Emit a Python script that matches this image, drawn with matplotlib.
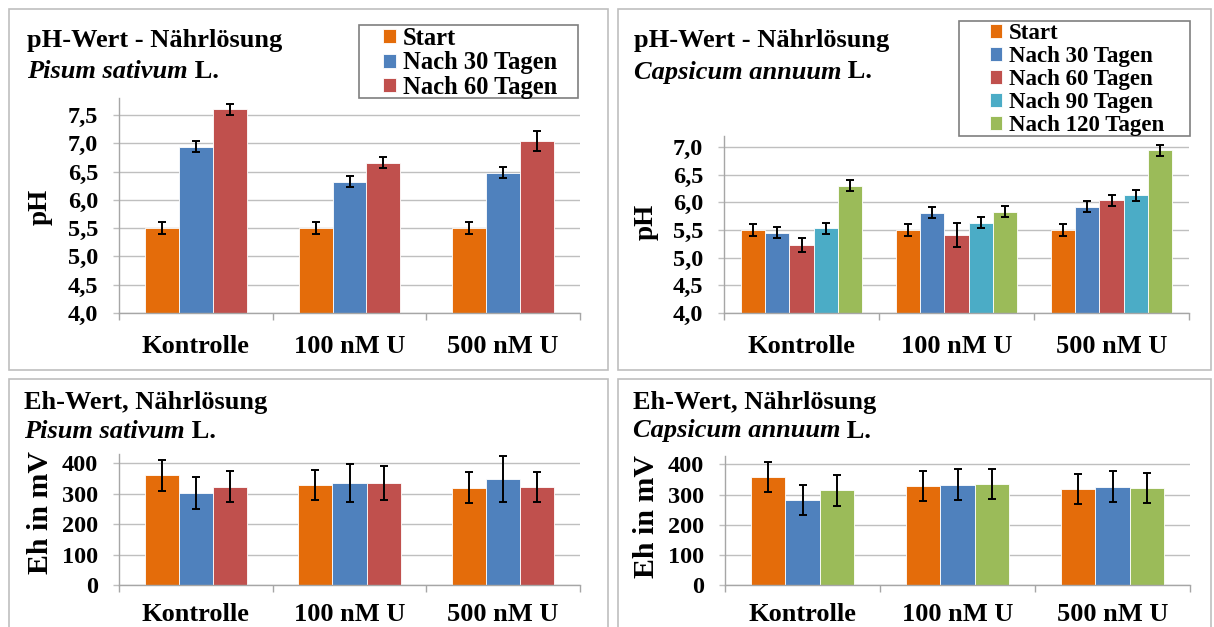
import numpy as np
import matplotlib
matplotlib.use('Agg')
import matplotlib.pyplot as plt
from matplotlib.patches import Rectangle
from matplotlib.ticker import FuncFormatter

plt.rcParams['font.family'] = 'Liberation Serif'
plt.rcParams['font.weight'] = 'bold'

# Data
categories = ['Kontrolle', '100 nM U', '500 nM U']

# pH - Pisum sativum
pisum_ph_labels = ['Start', 'Nach 30 Tagen', 'Nach 60 Tagen']
pisum_ph_start = [5.5, 5.5, 5.5]
pisum_ph_30 = [6.94, 6.32, 6.48]
pisum_ph_60 = [7.60, 6.66, 7.04]
pisum_ph_start_err = [0.10, 0.10, 0.10]
pisum_ph_30_err = [0.10, 0.10, 0.10]
pisum_ph_60_err = [0.10, 0.10, 0.18]

# pH - Capsicum annuum
capsicum_ph_labels = ['Start', 'Nach 30 Tagen', 'Nach 60 Tagen',
                      'Nach 90 Tagen', 'Nach 120 Tagen']
capsicum_ph_start = [5.5, 5.5, 5.5]
capsicum_ph_30 = [5.45, 5.81, 5.92]
capsicum_ph_60 = [5.23, 5.41, 6.04]
capsicum_ph_90 = [5.53, 5.63, 6.13]
capsicum_ph_120 = [6.30, 5.83, 6.94]
capsicum_ph_start_err = [0.10, 0.10, 0.10]
capsicum_ph_30_err = [0.10, 0.10, 0.10]
capsicum_ph_60_err = [0.13, 0.21, 0.10]
capsicum_ph_90_err = [0.10, 0.10, 0.10]
capsicum_ph_120_err = [0.10, 0.10, 0.10]

# Eh - Pisum sativum (Start, 30 d, 60 d)
pisum_eh_start = [360, 329, 319]
pisum_eh_30 = [302, 335, 347]
pisum_eh_60 = [323, 335, 323]
pisum_eh_start_err = [50, 50, 51]
pisum_eh_30_err = [51, 62, 75]
pisum_eh_60_err = [51, 56, 49]

# Eh - Capsicum annuum (Start, 30 d, 120 d)
capsicum_eh_start = [358, 328, 319]
capsicum_eh_30 = [282, 333, 326]
capsicum_eh_120 = [314, 334, 322]
capsicum_eh_start_err = [50, 50, 50]
capsicum_eh_30_err = [50, 51, 51]
capsicum_eh_120_err = [51, 50, 51]

ORANGE = '#E46C0A'
BLUE = '#4F81BD'
RED = '#C0504D'
TEAL = '#4BACC6'
GREEN = '#9BBB59'

W, H = 1214, 627
fig = plt.figure(figsize=(W / 100, H / 100), dpi=100)


def fx(x):
    return x / W


def fy(y):
    return 1 - y / H


def add_axes(left, top, right, bottom):
    return fig.add_axes([fx(left), fy(bottom), (right - left) / W, (bottom - top) / H])


def frame(left, top, right, bottom, color='#BFBFBF'):
    fig.patches.append(Rectangle((fx(left), fy(bottom)), (right - left) / W, (bottom - top) / H,
                                 transform=fig.transFigure, fill=False,
                                 edgecolor=color, lw=1.2, zorder=5))


def bars(ax, series, errs, colors, width):
    x = np.arange(len(categories))
    n = len(series)
    handles = []
    for i, (vals, err, c) in enumerate(zip(series, errs, colors)):
        pos = x + (i - (n - 1) / 2) * width
        b = ax.bar(pos, vals, width, color=c, edgecolor='white', linewidth=0.6, zorder=2)
        ax.errorbar(pos, vals, yerr=err, fmt='none', ecolor='black', elinewidth=1.4,
                    capsize=3, capthick=1.4, zorder=3)
        handles.append(b)
    return handles


def style(ax, ylim, ticks, fmt, xpad):
    ax.set_xlim(-0.5, 2.5)
    ax.set_ylim(*ylim)
    ax.set_yticks(ticks)
    ax.yaxis.set_major_formatter(FuncFormatter(fmt))
    ax.set_xticks(range(len(categories)))
    ax.set_xticklabels(categories, fontsize=19)
    ax.set_xticks([-0.5, 0.5, 1.5, 2.5], minor=True)
    ax.tick_params(axis='x', which='major', length=0, pad=xpad)
    ax.tick_params(axis='x', which='minor', length=5, color='#A6A6A6', width=1)
    ax.tick_params(axis='y', length=4.5, color='#BFBFBF', width=1, pad=10.5, labelsize=17.5)
    ax.grid(axis='y', color='#BFBFBF', lw=1, zorder=0)
    ax.set_axisbelow(True)
    for s in ['top', 'right']:
        ax.spines[s].set_visible(False)
    for s in ['left', 'bottom']:
        ax.spines[s].set_color('#A6A6A6')
        ax.spines[s].set_linewidth(1)


def legend(handles, labels, x, y, size, spacing):
    fig.legend(handles, labels, loc='upper left', bbox_to_anchor=(fx(x), fy(y)),
               fontsize=size, frameon=False, handlelength=0.52, handleheight=0.52,
               handletextpad=0.3, labelspacing=spacing, borderpad=0, borderaxespad=0)


ph_fmt = lambda v, p: f'{v:.1f}'.replace('.', ',')
eh_fmt = lambda v, p: f'{v:.0f}'

# Panel frames
frame(9, 9, 608, 370)
frame(618, 9, 1211, 370)
frame(9, 379, 608, 640)
frame(618, 379, 1211, 640)

# pH Pisum
ax1 = add_axes(119, 98, 580, 313)
h1 = bars(ax1, [pisum_ph_start, pisum_ph_30, pisum_ph_60],
          [pisum_ph_start_err, pisum_ph_30_err, pisum_ph_60_err],
          [ORANGE, BLUE, RED], 0.22)
style(ax1, (4.0, 7.8), np.arange(4.0, 7.51, 0.5), ph_fmt, 15.5)
legend(h1, pisum_ph_labels, 383, 27, 17.7, 0.06)
frame(359, 25, 578, 98, '#7F7F7F')
fig.text(fx(40), fy(207), 'pH', fontsize=19.5, rotation=90, ha='center', va='center')

# pH Capsicum
ax2 = add_axes(724, 136, 1189, 313)
h2 = bars(ax2, [capsicum_ph_start, capsicum_ph_30, capsicum_ph_60, capsicum_ph_90, capsicum_ph_120],
          [capsicum_ph_start_err, capsicum_ph_30_err, capsicum_ph_60_err,
           capsicum_ph_90_err, capsicum_ph_120_err],
          [ORANGE, BLUE, RED, TEAL, GREEN], 0.155)
style(ax2, (4.0, 7.2), np.arange(4.0, 7.01, 0.5), ph_fmt, 15.5)
legend(h2, capsicum_ph_labels, 990, 23, 16.5, 0.09)
frame(959, 21, 1190, 136, '#7F7F7F')
fig.text(fx(646), fy(222), 'pH', fontsize=19.5, rotation=90, ha='center', va='center')

# Eh Pisum
ax3 = add_axes(119, 454, 580, 585)
bars(ax3, [pisum_eh_start, pisum_eh_30, pisum_eh_60],
     [pisum_eh_start_err, pisum_eh_30_err, pisum_eh_60_err],
     [ORANGE, BLUE, RED], 0.222)
style(ax3, (0, 430), np.arange(0, 401, 100), eh_fmt, 13)
fig.text(fx(40), fy(513), 'Eh in mV', fontsize=21.5, rotation=90, ha='center', va='center')

# Eh Capsicum
ax4 = add_axes(725, 456, 1190, 585)
bars(ax4, [capsicum_eh_start, capsicum_eh_30, capsicum_eh_120],
     [capsicum_eh_start_err, capsicum_eh_30_err, capsicum_eh_120_err],
     [ORANGE, BLUE, GREEN], 0.222)
style(ax4, (0, 428), np.arange(0, 401, 100), eh_fmt, 13)
fig.text(fx(647), fy(516), 'Eh in mV', fontsize=21.5, rotation=90, ha='center', va='center')

# Titles: second line has italic species name followed by upright "L."
for x, y1, y2, line1, species in [
        (27, 40, 71, 'pH-Wert - Nährlösung', 'Pisum sativum'),
        (634, 40, 72, 'pH-Wert - Nährlösung', 'Capsicum annuum'),
        (24, 402, 432, 'Eh-Wert, Nährlösung', 'Pisum sativum'),
        (633, 402, 431, 'Eh-Wert, Nährlösung', 'Capsicum annuum')]:
    fig.text(fx(x), fy(y1), line1, fontsize=19, va='center', ha='left')
    t = fig.text(fx(x), fy(y2), species, fontsize=19, style='italic', va='center', ha='left')
    fig.canvas.draw()
    bb = t.get_window_extent().transformed(fig.transFigure.inverted())
    fig.text(bb.x1, fy(y2), ' L.', fontsize=19, va='center', ha='left')

fig.savefig('out.png', dpi=100)
